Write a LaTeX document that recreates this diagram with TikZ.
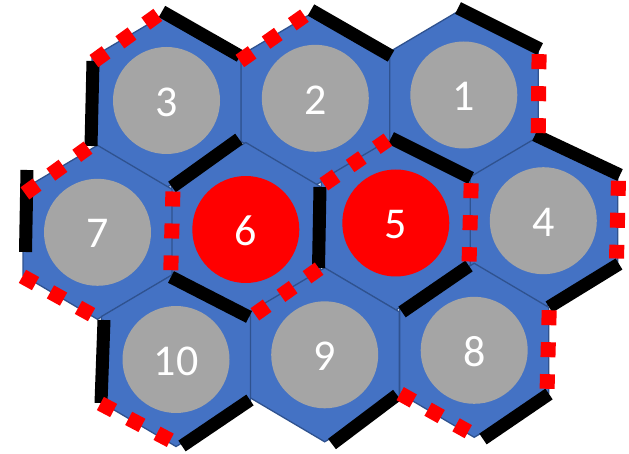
\documentclass[tikz,border=0pt]{standalone}
\usepackage{fontspec}
\setmainfont{Carlito}
\usetikzlibrary{calc}
\definecolor{hexfill}{HTML}{4472C4}
\definecolor{hexline}{HTML}{2F528F}
\definecolor{cgray}{HTML}{A5A5A5}
\definecolor{cred}{HTML}{FF0000}
\newcommand\drawhex[3]{%
  \coordinate (#1) at (#2,#3);
  \path[hexcell,shift={(#2,#3)}] (0,-87) -- (74.5,-43) -- (74.5,43) -- (0,87) -- (-74.5,43) -- (-74.5,-43) -- cycle;}
\newcommand\celldisc[5]{%
  \node[#4] (c#1) at (#2,#3) {};
  \node[numtext] (t#1) at ($(c#1)+(0,1.5)$) {#5};}
\newcommand\reddots[4]{%
  \draw[reddash] ($(#1,#2)!-7.5pt!(#3,#4)$) -- ($(#3,#4)!-7.5pt!(#1,#2)$);}
\begin{document}
\begin{tikzpicture}[x=1pt,y=-1pt,
  hexcell/.style={fill=hexfill,draw=hexline,line width=1.3pt,line join=miter},
  disc/.style={circle,minimum size=107pt,inner sep=0pt},
  graydisc/.style={disc,fill=cgray},
  reddisc/.style={disc,fill=cred},
  numtext/.style={text=white,font=\fontsize{44}{44}\selectfont,inner sep=0pt},
  bar/.style={line width=13pt,draw=black,line cap=butt},
  reddash/.style={draw=cred,line width=15pt,line cap=butt,dash pattern=on 15pt off 17pt}
]
\useasboundingbox (0,0) rectangle (629,454);
% hexagons
\drawhex{h1}{463.8}{95}
\drawhex{h2}{315.3}{98.3}
\drawhex{h3}{166.5}{100.5}
\drawhex{h4}{543.3}{220.7}
\drawhex{h5}{395.8}{223}
\drawhex{h6}{245.8}{229.5}
\drawhex{h7}{97.5}{232.3}
\drawhex{h8}{474.2}{350.3}
\drawhex{h9}{324.7}{354.8}
\drawhex{h10}{176}{359.5}
% discs and numbers
\celldisc{1}{463.8}{95}{graydisc}{1}
\celldisc{2}{315.3}{98.3}{graydisc}{2}
\celldisc{3}{166.5}{100.5}{graydisc}{3}
\celldisc{4}{543.3}{220.7}{graydisc}{4}
\celldisc{5}{395.8}{223}{reddisc}{5}
\celldisc{6}{245.8}{229.5}{reddisc}{6}
\celldisc{7}{97.5}{232.3}{graydisc}{7}
\celldisc{8}{474.2}{350.3}{graydisc}{8}
\celldisc{9}{324.7}{354.8}{graydisc}{9}
\celldisc{10}{176}{359.5}{graydisc}{10}
% black bars
\draw[bar] (93,61) -- (91,146);
\draw[bar] (162,11.5) -- (240,56);
\draw[bar] (311,10) -- (391,56);
\draw[bar] (458,8) -- (540,49);
\draw[bar] (172,187) -- (239,139);
\draw[bar] (391,138) -- (471,178);
\draw[bar] (535,135) -- (620,175);
\draw[bar] (27,170) -- (25.5,252);
\draw[bar] (320,187) -- (318.5,268);
\draw[bar] (171,277) -- (249,317);
\draw[bar] (402,312) -- (469,266);
\draw[bar] (549,307) -- (619,264);
\draw[bar] (104,320) -- (101,403);
\draw[bar] (182,446) -- (250,400);
\draw[bar] (332,444) -- (397,395);
\draw[bar] (483,439) -- (549,394);
% red dotted edges
\reddots{100}{56.7}{151.7}{19.3}
\reddots{246}{56.7}{298.3}{20}
\reddots{539}{61.7}{538.3}{126}
\reddots{31}{189}{82}{152}
\reddots{172.7}{199}{171}{262.7}
\reddots{330}{180}{381.7}{144}
\reddots{471}{190.7}{469.3}{254}
\reddots{618.3}{188.3}{616.7}{251}
\reddots{29}{280}{85}{311}
\reddots{261}{310}{313}{273}
\reddots{107}{407}{164}{437}
\reddots{406.7}{397.3}{461.7}{428}
\reddots{549}{317.7}{547.3}{381.3}
\end{tikzpicture}
\end{document}
